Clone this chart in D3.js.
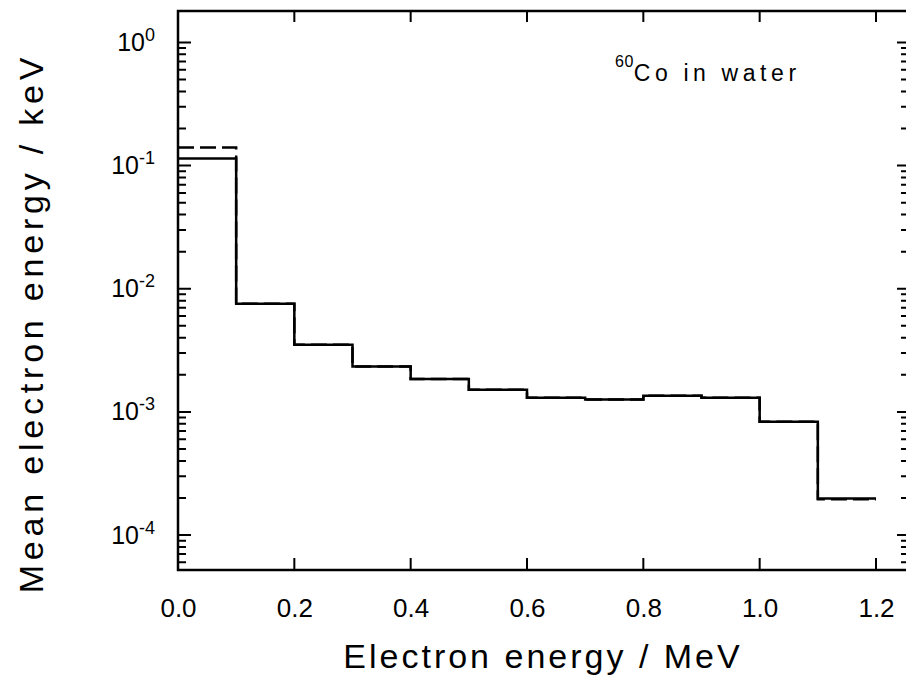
<!DOCTYPE html>
<html>
<head>
<meta charset="utf-8">
<script src="https://cdnjs.cloudflare.com/ajax/libs/d3/7.8.5/d3.min.js"></script>
<style>
body { margin: 0; background: #fff; }
text { font-family: "Liberation Sans", Arial, Helvetica, sans-serif; fill: #000; }
</style>
</head>
<body>
<div id="chart"></div>
<script>
var width = 906,
    height = 689;

// histogram bins (MeV)
var binEdges = [0.0, 0.1, 0.2, 0.3, 0.4, 0.5, 0.6, 0.7, 0.8, 0.9, 1.0, 1.1, 1.2];
// mean electron energy per bin (keV), solid curve
var solidValues = [0.114, 0.00755, 0.00351, 0.00234, 0.00185, 0.00151, 0.00130, 0.00126, 0.00135, 0.00130, 0.00083, 0.000198];
// dashed curve
var dashedValues = [0.140, 0.00755, 0.00351, 0.00234, 0.00185, 0.00151, 0.00130, 0.00126, 0.00135, 0.00130, 0.00083, 0.000195];

var xTicks = [0.0, 0.2, 0.4, 0.6, 0.8, 1.0, 1.2];
var yDecades = [1e-4, 1e-3, 1e-2, 1e-1, 1];
var yExponents = ["-4", "-3", "-2", "-1", "0"];

var svg = d3.select("#chart").append("svg")
    .attr("width", width)
    .attr("height", height);

var x = d3.scaleLinear()
    .domain([0, 1.2])
    .range([178, 876]);

var y = d3.scaleLog()
    .domain([5.2e-5, 1.8])
    .range([570, 11]);

// minor log ticks 2..9 in each decade
var yMinor = [];
[1e-5, 1e-4, 1e-3, 1e-2, 1e-1, 1].forEach(function (d) {
    for (var k = 2; k <= 9; k++) {
        var v = d * k;
        if (v > y.domain()[0] && v < y.domain()[1]) yMinor.push(v);
    }
});

function toPoints(vals) {
    var pts = vals.map(function (v, i) { return [binEdges[i], v]; });
    pts.push([binEdges[binEdges.length - 1], vals[vals.length - 1]]);
    return pts;
}

var line = d3.line()
    .x(function (d) { return x(d[0]); })
    .y(function (d) { return y(d[1]); })
    .curve(d3.curveStepAfter);

// frame right edge sits just past the page edge, as in the scan
var x0 = x(0), x1 = x(1.255), yTop = y(1.8), yBot = y(5.2e-5);

svg.append("rect")
    .attr("x", x0)
    .attr("y", yTop)
    .attr("width", x1 - x0)
    .attr("height", yBot - yTop)
    .style("fill", "none")
    .style("stroke", "#000")
    .style("stroke-width", 2.5);

// tick labels
var xAxis = svg.append("g")
    .attr("transform", "translate(0," + yBot + ")")
    .call(d3.axisBottom(x).tickValues(xTicks).tickSize(0).tickPadding(29)
        .tickFormat(d3.format(".1f")));
xAxis.select(".domain").remove();
xAxis.selectAll("text").attr("font-size", 26).attr("font-family", null);

var yAxis = svg.append("g")
    .attr("transform", "translate(" + x0 + ",0)")
    .call(d3.axisLeft(y).tickValues(yDecades).tickSize(0).tickPadding(23).tickFormat(""));
yAxis.select(".domain").remove();
yAxis.selectAll(".tick text")
    .attr("font-size", 25)
    .attr("font-family", null)
    .each(function (d, i) {
        var t = d3.select(this);
        t.append("tspan").text("10");
        t.append("tspan").attr("dy", "-0.55em").attr("font-size", 18).text(yExponents[i]);
    });

// curves
svg.append("path")
    .datum(toPoints(dashedValues))
    .attr("d", line)
    .style("fill", "none")
    .style("stroke", "#000")
    .style("stroke-width", 2.5)
    .style("stroke-dasharray", "16,6");

svg.append("path")
    .datum(toPoints(solidValues))
    .attr("d", line)
    .style("fill", "none")
    .style("stroke", "#000")
    .style("stroke-width", 2.5);

// tick marks, all pointing inward, one path per set
function hTickPath(vals, xa, xb) {
    var p = d3.path();
    vals.forEach(function (d) {
        p.moveTo(xa, y(d));
        p.lineTo(xb, y(d));
    });
    return p.toString();
}
function vTickPath(vals, ya, yb) {
    var p = d3.path();
    vals.forEach(function (d) {
        p.moveTo(x(d), ya);
        p.lineTo(x(d), yb);
    });
    return p.toString();
}
var tickPaths = [
    hTickPath(yDecades, x0, x0 + 13),
    hTickPath(yMinor, x0, x0 + 8),
    hTickPath(yDecades, x1, x1 - 11),
    hTickPath(yMinor, x1, x1 - 7),
    vTickPath(xTicks.slice(1), yBot, yBot - 12),
    vTickPath(xTicks.slice(1), yTop, yTop + 11)
];
svg.append("g").selectAll("path")
    .data(tickPaths)
    .enter().append("path")
    .attr("d", function (d) { return d; })
    .style("fill", "none")
    .style("stroke", "#000")
    .style("stroke-width", 2);

// annotation
var note = svg.append("text")
    .attr("x", 615)
    .attr("y", 77)
    .style("font-size", "23px")
    .style("letter-spacing", "4.6px");
note.append("tspan").attr("dy", "-0.6em").style("font-size", "16px").style("letter-spacing", "0.5px").text("60");
note.append("tspan").attr("dy", "0.6em").text("Co in water");

// axis titles
svg.append("text")
    .attr("x", 543)
    .attr("y", 668)
    .attr("text-anchor", "middle")
    .style("font-size", "34px")
    .style("letter-spacing", "3px")
    .text("Electron energy / MeV");

svg.append("text")
    .attr("transform", "translate(43,323) rotate(-90)")
    .attr("text-anchor", "middle")
    .style("font-size", "34px")
    .style("letter-spacing", "4.8px")
    .text("Mean electron energy / keV");
</script>
</body>
</html>
